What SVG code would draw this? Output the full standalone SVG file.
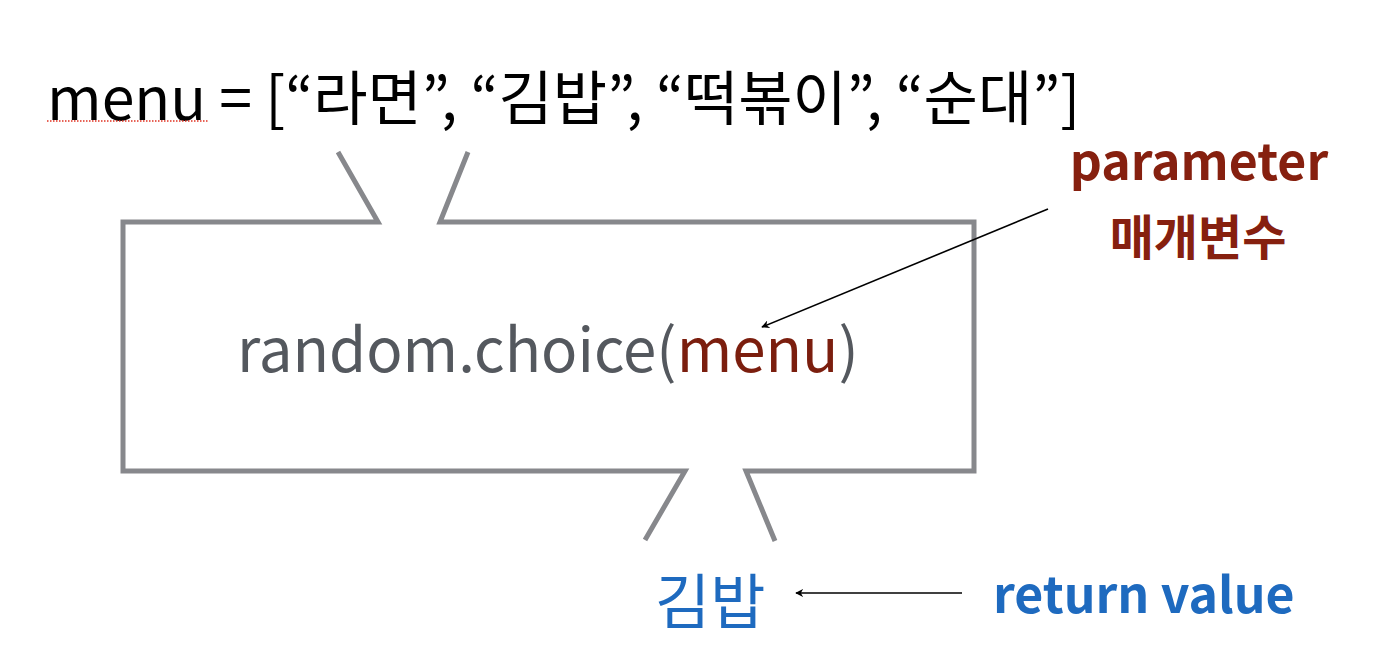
<svg xmlns="http://www.w3.org/2000/svg" width="1376" height="671" viewBox="0 0 1376 671">
<style>
.t{font-family:"Noto Sans CJK KR","Noto Sans",sans-serif;}
.box{fill:none;stroke:#87888c;stroke-width:5;stroke-linejoin:miter;}
.arr{fill:none;stroke:#000;stroke-width:1.6;marker-end:url(#ah);}
</style>
<defs>
<marker id="ah" viewBox="0 0 10 10" refX="9" refY="5" markerWidth="8" markerHeight="8" markerUnits="userSpaceOnUse" orient="auto">
<path d="M0,0 L10,5 L0,10 L3,5 Z" fill="#000"/>
</marker>
</defs>
<rect width="1376" height="671" fill="#fff"/>
<g id="menu-line">
<text class="t" x="47" y="120" font-size="59" fill="#000">menu = [“라면”, “김밥”, “떡볶이”, “순대”]</text>
<line x1="47" y1="121" x2="208" y2="121" stroke="#e03020" stroke-width="1.5" stroke-dasharray="1.5,1.5"/>
</g>
<g id="function-box">
<polyline class="box" points="338,152 378,222 123,222 123,471 685,471 645,540"/>
<polyline class="box" points="468,152 440,222 974,222 974,471 746,471 775,541"/>
<text class="t" x="237" y="372" font-size="60" fill="#54585e">random.choice(<tspan fill="#7b1e0e">menu</tspan>)</text>
</g>
<g id="parameter-label">
<text class="t" x="1199" y="180" font-size="50" font-weight="bold" fill="#86200f" text-anchor="middle">parameter</text>
<text class="t" x="1198" y="255" font-size="48" font-weight="bold" fill="#86200f" text-anchor="middle">매개변수</text>
</g>
<g id="result">
<text class="t" x="655" y="624" font-size="60" fill="#1e6abf">김밥</text>
</g>
<g id="return-label">
<text class="t" x="993" y="613" font-size="50" font-weight="bold" fill="#1e6abf">return value</text>
</g>
<g id="connectors">
<line class="arr" x1="1048" y1="209" x2="762" y2="327"/>
<line class="arr" x1="962" y1="593" x2="796" y2="593"/>
</g>
</svg>
